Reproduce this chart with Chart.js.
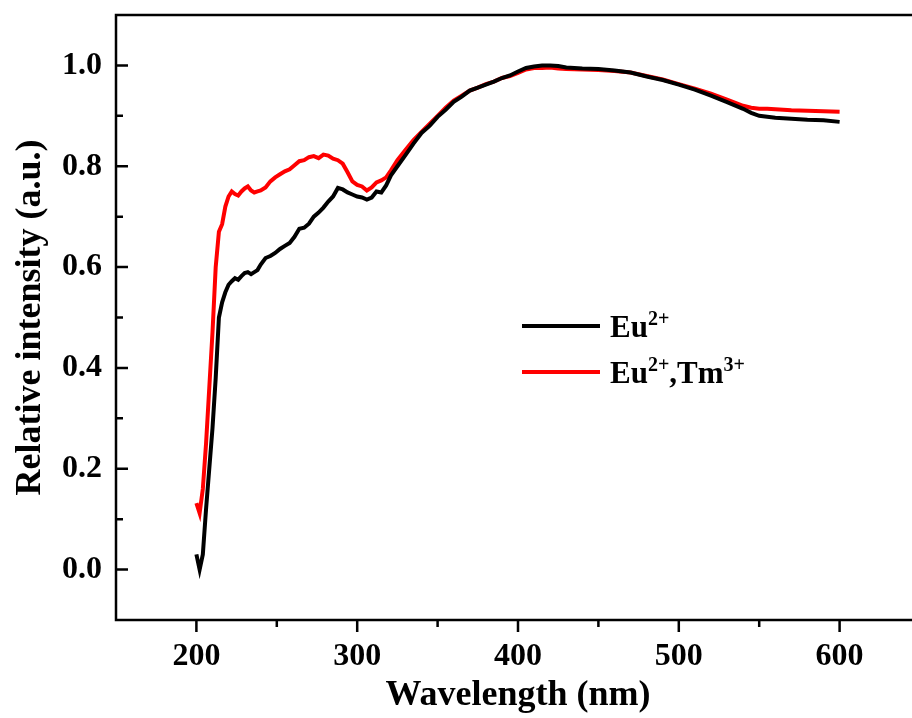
<!DOCTYPE html>
<html>
<head>
<meta charset="utf-8">
<script src="https://cdn.jsdelivr.net/npm/chart.js@4.4.1/dist/chart.umd.min.js"></script>
<style>
  html, body { margin: 0; padding: 0; background: #fff; overflow: hidden; }
  #wrap { width: 930px; height: 718px; }
</style>
</head>
<body>
<div id="wrap"><canvas id="myChart" width="930" height="718"></canvas></div>
<script>
// wavelength grid (nm)
const wavelength = [200, 202, 204, 206, 208, 210, 212, 214, 216, 218, 220, 222, 224, 226, 228, 230,
  232, 234, 236, 238, 240, 243, 246, 249, 252, 255, 258, 261, 264, 267, 270, 273, 276, 279, 282,
  285, 288, 291, 294, 297, 300, 303, 306, 309, 312, 315, 318, 321, 325, 330, 335, 340, 345, 350,
  355, 360, 365, 370, 375, 380, 385, 390, 395, 400, 405, 410, 415, 420, 425, 430, 440, 450, 460,
  470, 480, 490, 500, 510, 520, 530, 540, 545, 550, 555, 560, 570, 580, 590, 600];

// Eu2+
const euValues = [0.030, 0.000, 0.030, 0.120, 0.200, 0.280, 0.380, 0.500, 0.530, 0.550, 0.565, 0.572,
  0.578, 0.575, 0.582, 0.588, 0.590, 0.586, 0.590, 0.594, 0.605, 0.618, 0.622, 0.628, 0.636, 0.642,
  0.648, 0.660, 0.676, 0.678, 0.686, 0.700, 0.708, 0.718, 0.730, 0.740, 0.757, 0.754, 0.748, 0.744,
  0.740, 0.738, 0.734, 0.738, 0.750, 0.748, 0.762, 0.782, 0.800, 0.822, 0.845, 0.866, 0.880, 0.898,
  0.912, 0.928, 0.938, 0.950, 0.956, 0.962, 0.968, 0.975, 0.980, 0.988, 0.995, 0.998, 1.000, 1.000,
  0.999, 0.996, 0.994, 0.993, 0.990, 0.986, 0.978, 0.971, 0.962, 0.952, 0.940, 0.927, 0.914, 0.906,
  0.900, 0.898, 0.896, 0.894, 0.892, 0.891, 0.888];

// Eu2+,Tm3+
const euTmValues = [0.132, 0.112, 0.160, 0.250, 0.360, 0.470, 0.600, 0.670, 0.685, 0.720, 0.740, 0.750,
  0.745, 0.742, 0.750, 0.756, 0.760, 0.752, 0.748, 0.750, 0.752, 0.758, 0.770, 0.778, 0.784, 0.790,
  0.794, 0.802, 0.810, 0.812, 0.818, 0.820, 0.816, 0.823, 0.821, 0.815, 0.812, 0.805, 0.788, 0.770,
  0.763, 0.760, 0.752, 0.758, 0.768, 0.772, 0.778, 0.792, 0.812, 0.832, 0.852, 0.868, 0.884, 0.900,
  0.916, 0.930, 0.940, 0.950, 0.956, 0.963, 0.968, 0.975, 0.979, 0.985, 0.992, 0.995, 0.995, 0.996,
  0.994, 0.993, 0.992, 0.991, 0.989, 0.986, 0.979, 0.972, 0.963, 0.954, 0.944, 0.932, 0.920, 0.916,
  0.914, 0.914, 0.913, 0.911, 0.910, 0.909, 0.908];

const xTicks = [200, 300, 400, 500, 600];
const xMinorTicks = [250, 350, 450, 550];
const yTicks = [0.0, 0.2, 0.4, 0.6, 0.8, 1.0];
const yMinorTicks = [0.1, 0.3, 0.5, 0.7, 0.9];

const FONT = "'Liberation Serif', 'Times New Roman', serif";

// frame, inward y ticks, outward x ticks, legend with superscripts
const axesPlugin = {
  id: 'axesPlugin',
  afterDraw(chart) {
    const ctx = chart.ctx;
    const a = chart.chartArea;
    const xs = chart.scales.x, ys = chart.scales.y;
    ctx.save();
    ctx.strokeStyle = '#000';
    ctx.lineWidth = 2.5;
    ctx.strokeRect(a.left, a.top, a.right - a.left, a.bottom - a.top);
    ctx.beginPath();
    xTicks.forEach(v => { let px = xs.getPixelForValue(v); ctx.moveTo(px, a.bottom); ctx.lineTo(px, a.bottom + 12); });
    xMinorTicks.forEach(v => { let px = xs.getPixelForValue(v); ctx.moveTo(px, a.bottom); ctx.lineTo(px, a.bottom + 7); });
    yTicks.forEach(v => { let py = ys.getPixelForValue(v); ctx.moveTo(a.left, py); ctx.lineTo(a.left + 12, py); });
    yMinorTicks.forEach(v => { let py = ys.getPixelForValue(v); ctx.moveTo(a.left, py); ctx.lineTo(a.left + 7, py); });
    ctx.stroke();

    // legend
    const rows = [
      { color: '#000000', parts: [['Eu', 0], ['2+', 1]] },
      { color: '#ff0000', parts: [['Eu', 0], ['2+', 1], [',Tm', 0], ['3+', 1]] }
    ];
    let lx = 522, ly = 326;
    rows.forEach((r, i) => {
      let y = ly + i * 46;
      ctx.strokeStyle = r.color;
      ctx.lineWidth = 4;
      ctx.beginPath(); ctx.moveTo(lx, y); ctx.lineTo(lx + 78, y); ctx.stroke();
      let tx = lx + 88;
      ctx.fillStyle = '#000';
      ctx.textBaseline = 'alphabetic';
      ctx.textAlign = 'left';
      r.parts.forEach(p => {
        if (p[1]) {
          ctx.font = 'bold 20px ' + FONT;
          ctx.fillText(p[0], tx, y - 1);
        } else {
          ctx.font = 'bold 31px ' + FONT;
          ctx.fillText(p[0], tx, y + 11);
        }
        tx += ctx.measureText(p[0]).width;
      });
    });
    ctx.restore();
  }
};

const data = {
  datasets: [
    {
      label: 'Eu2+',
      data: wavelength.map((w, i) => ({ x: w, y: euValues[i] })),
      borderColor: '#000000',
      borderWidth: 4,
      pointRadius: 0,
      tension: 0
    },
    {
      label: 'Eu2+,Tm3+',
      data: wavelength.map((w, i) => ({ x: w, y: euTmValues[i] })),
      borderColor: '#ff0000',
      borderWidth: 4,
      pointRadius: 0,
      tension: 0
    }
  ]
};

const config = {
  type: 'line',
  data: data,
  options: {
    responsive: false,
    animation: false,
    layout: { padding: { left: 0, right: 10, top: 15, bottom: 0 } },
    plugins: {
      legend: { display: false },
      tooltip: { enabled: false }
    },
    scales: {
      x: {
        type: 'linear',
        min: 150,
        max: 650,
        afterFit: s => { s.height = 98; s.paddingLeft = 0; s.paddingRight = 0; },
        afterBuildTicks: s => { s.ticks = xTicks.map(v => ({ value: v })); },
        grid: { display: false, drawTicks: false },
        border: { display: false },
        ticks: {
          color: '#000',
          padding: 18,
          maxRotation: 0,
          font: { family: FONT, size: 32, weight: 'bold' },
          callback: v => String(v)
        },
        title: {
          display: true,
          text: 'Wavelength (nm)',
          color: '#000',
          padding: { top: 0, bottom: 1 },
          font: { family: FONT, size: 36, weight: 'bold' }
        }
      },
      y: {
        min: -0.1,
        max: 1.1,
        afterFit: s => { s.width = 116; s.paddingTop = 0; s.paddingBottom = 0; },
        afterBuildTicks: s => { s.ticks = yTicks.map(v => ({ value: v })); },
        grid: { display: false, drawTicks: false },
        border: { display: false },
        ticks: {
          color: '#000',
          padding: 14,
          font: { family: FONT, size: 32, weight: 'bold' },
          callback: v => v.toFixed(1)
        },
        title: {
          display: true,
          text: 'Relative intensity (a.u.)',
          color: '#000',
          padding: { top: 9, bottom: 0 },
          font: { family: FONT, size: 36, weight: 'bold' }
        }
      }
    }
  },
  plugins: [axesPlugin]
};

const ctxChart = document.getElementById('myChart').getContext('2d');
const chart = new Chart(ctxChart, config);
</script>
</body>
</html>
